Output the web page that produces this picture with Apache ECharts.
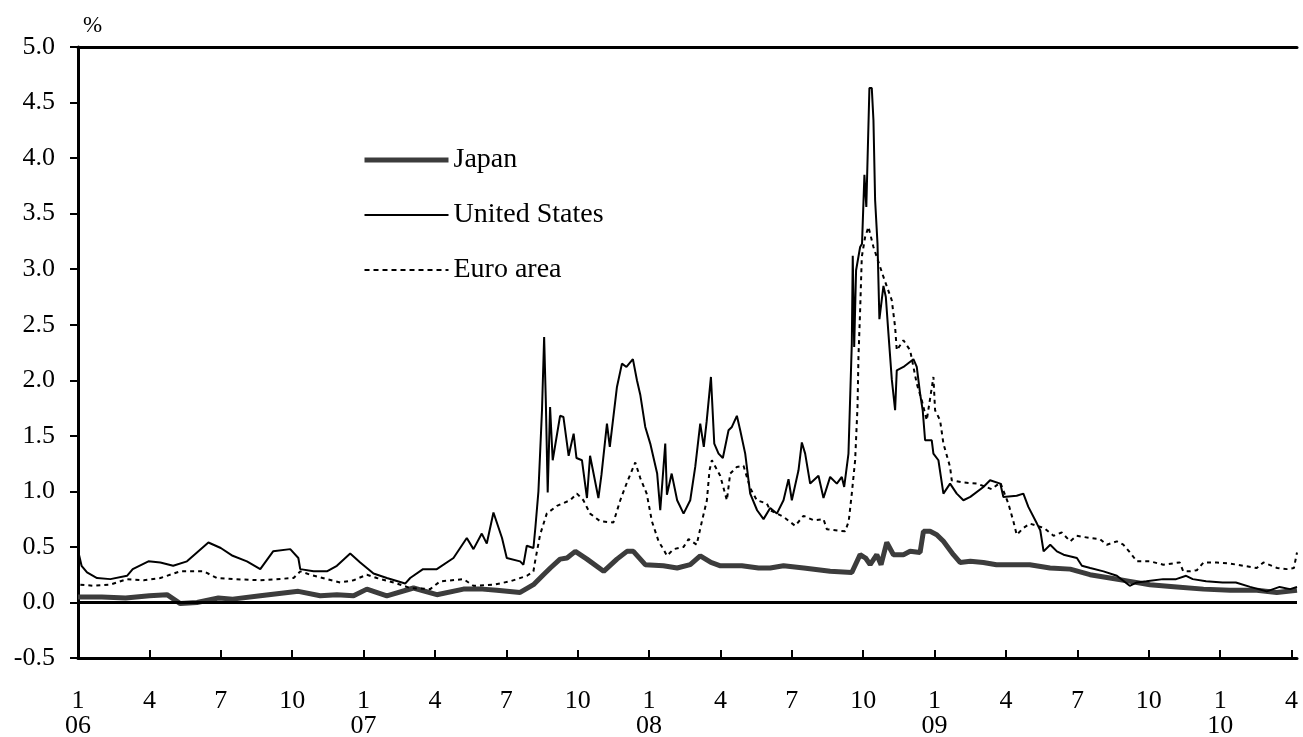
<!DOCTYPE html>
<html>
<head>
<meta charset="utf-8">
<script src="https://cdn.jsdelivr.net/npm/echarts@6/dist/echarts.min.js"></script>
<style>
html,body{margin:0;padding:0;background:#fff;}
#chart{width:1303px;height:737px;}
</style>
</head>
<body>
<div id="chart"></div>
<script>
// x values: months since January 2006 (0 = Jan 2006)
const tickMonths = [0,3,6,9,12,15,18,21,24,27,30,33,36,39,42,45,48,51];
const yearLabels = ['06','07','08','09','10'];
const monthLabels = ['1','4','7','10'];
const xEnd = 51.23;

const usMonth = [0.02,0.15,0.38,0.8,1.36,2.06,2.3,2.96,3.46,4.0,4.58,5.0,5.48,6.0,6.5,7.1,7.66,8.2,8.92,9.26,9.34,9.9,10.46,10.88,11.44,11.86,12.42,12.98,13.75,13.96,14.5,15.08,15.78,16.34,16.62,16.97,17.18,17.46,17.82,18.02,18.58,18.72,18.86,19.14,19.22,19.35,19.5,19.59,19.66,19.74,19.84,19.95,20.26,20.4,20.62,20.83,20.95,21.18,21.39,21.52,21.87,22.0,22.23,22.35,22.65,22.86,23.05,23.32,23.49,23.63,23.84,24.05,24.34,24.47,24.68,24.75,24.95,25.18,25.45,25.73,25.94,26.15,26.3,26.42,26.6,26.68,26.74,26.92,27.1,27.34,27.48,27.69,27.83,28.04,28.25,28.54,28.81,29.09,29.37,29.65,29.86,30.0,30.28,30.42,30.56,30.77,31.12,31.33,31.61,31.89,32.1,32.2,32.38,32.52,32.56,32.62,32.7,32.87,32.95,33.05,33.13,33.26,33.36,33.43,33.5,33.6,33.68,33.85,33.95,34.06,34.2,34.34,34.41,34.69,35.11,35.25,35.39,35.5,35.6,35.88,35.95,36.16,36.37,36.65,36.93,37.21,37.5,38.05,38.33,38.76,38.89,39.45,39.73,39.94,40.3,40.44,40.58,40.86,41.14,41.42,41.98,42.19,42.54,43.1,43.66,44.2,44.5,44.9,45.6,46.15,46.57,46.85,47.41,48.1,48.66,49.26,49.96,50.5,50.94,51.23];
const usValue = [0.45,0.33,0.27,0.22,0.21,0.24,0.30,0.37,0.36,0.33,0.37,0.45,0.54,0.49,0.42,0.37,0.30,0.46,0.48,0.40,0.30,0.28,0.28,0.33,0.44,0.36,0.26,0.22,0.17,0.22,0.30,0.30,0.40,0.58,0.48,0.62,0.53,0.81,0.58,0.40,0.37,0.34,0.51,0.49,0.67,1.00,1.73,2.39,1.82,0.99,1.76,1.28,1.68,1.67,1.32,1.52,1.30,1.28,0.94,1.32,0.94,1.15,1.61,1.40,1.94,2.15,2.12,2.19,2.00,1.87,1.58,1.43,1.16,0.83,1.43,0.97,1.16,0.92,0.80,0.92,1.22,1.61,1.40,1.63,2.03,2.03,1.43,1.34,1.30,1.55,1.58,1.68,1.55,1.34,0.98,0.83,0.75,0.85,0.80,0.92,1.11,0.92,1.19,1.44,1.34,1.07,1.14,0.94,1.13,1.07,1.13,1.04,1.34,2.33,3.12,2.30,2.99,3.20,3.23,3.85,3.56,4.63,4.63,4.34,3.62,3.23,2.55,2.85,2.75,2.42,2.01,1.73,2.09,2.12,2.19,2.12,1.88,1.73,1.46,1.46,1.34,1.28,0.98,1.07,0.98,0.92,0.95,1.04,1.10,1.07,0.95,0.96,0.98,0.86,0.71,0.65,0.46,0.52,0.46,0.43,0.40,0.33,0.31,0.28,0.24,0.15,0.18,0.19,0.21,0.21,0.24,0.21,0.19,0.18,0.18,0.14,0.10,0.14,0.12,0.14];

const euroMonth = [0.1,0.66,1.36,2.06,2.76,3.46,4.3,5.28,5.84,6.54,7.66,9.06,9.34,9.76,10.46,11.02,11.58,12.14,12.56,13.26,13.96,14.8,15.22,16.2,16.62,17.46,18.16,18.87,19.14,19.21,19.42,19.7,20.13,20.68,20.97,21.24,21.52,21.95,22.5,22.79,23.07,23.42,23.63,23.9,24.12,24.4,24.6,24.75,25.03,25.45,25.66,26.0,26.22,26.43,26.54,26.64,26.99,27.13,27.27,27.41,27.69,27.97,28.25,28.53,28.95,29.09,29.65,30.14,30.49,30.91,31.33,31.47,32.24,32.39,32.52,32.66,32.76,32.8,32.87,32.94,33.08,33.22,33.43,33.57,33.85,34.2,34.34,34.41,34.69,34.97,35.25,35.46,35.67,35.95,36.02,36.23,36.37,36.65,36.72,37.21,37.77,38.4,38.76,39.1,39.31,39.45,39.73,40.0,40.3,40.6,41.0,41.34,41.7,41.97,42.53,42.95,43.24,43.66,43.93,44.21,44.5,45.05,45.61,46.3,46.45,46.74,47.02,47.3,47.86,48.42,48.98,49.54,49.82,50.4,50.8,51.1,51.23];
const euroValue = [0.16,0.15,0.16,0.21,0.20,0.22,0.28,0.28,0.22,0.21,0.20,0.22,0.28,0.25,0.21,0.18,0.20,0.25,0.22,0.18,0.13,0.12,0.19,0.21,0.15,0.16,0.19,0.24,0.28,0.37,0.61,0.80,0.87,0.92,0.98,0.92,0.80,0.73,0.72,0.92,1.08,1.26,1.12,0.98,0.73,0.55,0.48,0.42,0.48,0.50,0.57,0.52,0.73,0.92,1.19,1.28,1.14,1.03,0.92,1.16,1.22,1.23,1.03,0.92,0.89,0.83,0.77,0.69,0.78,0.74,0.75,0.66,0.64,0.73,0.98,1.28,1.76,2.21,2.63,3.11,3.29,3.38,3.20,3.11,2.93,2.72,2.48,2.27,2.36,2.27,1.97,1.82,1.64,2.03,1.73,1.64,1.43,1.22,1.10,1.08,1.07,1.02,1.08,0.89,0.73,0.61,0.67,0.71,0.69,0.67,0.60,0.63,0.55,0.60,0.58,0.57,0.52,0.55,0.52,0.45,0.37,0.37,0.34,0.36,0.28,0.28,0.29,0.36,0.36,0.35,0.33,0.31,0.36,0.31,0.30,0.31,0.45];

const japanMonth = [0.0,1.0,2.0,3.0,3.74,4.3,5.0,5.9,6.5,7.66,9.26,10.18,10.88,11.58,12.14,12.98,14.1,15.08,16.2,17.0,17.6,18.58,19.14,19.56,19.85,20.26,20.55,20.9,21.39,22.09,22.65,23.07,23.34,23.84,24.6,25.18,25.73,26.15,26.6,27.0,27.9,28.6,29.09,29.65,30.5,31.61,32.52,32.87,33.1,33.29,33.57,33.75,33.99,34.27,34.69,34.97,35.39,35.53,35.81,36.09,36.37,36.79,37.07,37.5,38.05,38.6,39.17,40.0,40.85,41.7,42.53,43.37,44.21,45.05,46.18,47.3,48.42,49.54,50.38,51.23];
const japanValue = [0.05,0.05,0.04,0.06,0.07,-0.01,0.00,0.04,0.03,0.06,0.10,0.06,0.07,0.06,0.12,0.06,0.13,0.07,0.12,0.12,0.11,0.09,0.16,0.25,0.31,0.39,0.40,0.46,0.39,0.28,0.39,0.46,0.46,0.34,0.33,0.31,0.34,0.42,0.36,0.33,0.33,0.31,0.31,0.33,0.31,0.28,0.27,0.43,0.40,0.34,0.43,0.34,0.54,0.43,0.43,0.46,0.45,0.64,0.64,0.61,0.55,0.43,0.36,0.37,0.36,0.34,0.34,0.34,0.31,0.30,0.25,0.22,0.19,0.16,0.14,0.12,0.11,0.11,0.09,0.11];

const zip = (xs, ys) => xs.map((x, i) => [x, ys[i]]);
const FONT = '"Liberation Serif", "Times New Roman", serif';
const JAPAN_COLOR = '#3c3c3c';

function monthLabel(v) {
  const m = Math.round(v);
  const mi = ((m % 12) + 12) % 12;
  const label = monthLabels[mi / 3];
  if (mi === 0) return label + '\n' + yearLabels[m / 12];
  return label;
}

const chart = echarts.init(document.getElementById('chart'), null, {renderer: 'canvas'});
chart.setOption({
  animation: false,
  backgroundColor: '#ffffff',
  grid: {left: 78, right: 6, top: 47, bottom: 79, outerBoundsMode: 'none', containLabel: false},
  legend: {
    orient: 'vertical',
    left: 362,
    top: 146,
    padding: 0,
    itemWidth: 84,
    itemHeight: 28,
    itemGap: 27,
    itemStyle: {opacity: 0},
    data: [
      {name: 'Japan', lineStyle: {color: JAPAN_COLOR, width: 5, type: 'solid'}},
      {name: 'United States', lineStyle: {color: '#000', width: 2, type: 'solid'}},
      {name: 'Euro area', lineStyle: {color: '#000', width: 2, type: [5, 4]}}
    ],
    textStyle: {fontFamily: FONT, fontSize: 28, color: '#000'}
  },
  xAxis: [{
    type: 'value',
    min: 0,
    max: xEnd,
    position: 'bottom',
    axisLine: {show: true, onZero: false, lineStyle: {color: '#000', width: 3}},
    axisTick: {show: true, inside: true, length: 8, lineStyle: {color: '#000', width: 2}, customValues: tickMonths},
    axisLabel: {
      customValues: tickMonths,
      formatter: monthLabel,
      fontFamily: FONT, fontSize: 26, color: '#000', lineHeight: 25, margin: 31
    },
    splitLine: {show: false}
  }, {
    type: 'value',
    min: 0,
    max: xEnd,
    position: 'top',
    axisLine: {show: true, onZero: false, lineStyle: {color: '#000', width: 3}},
    axisTick: {show: false},
    axisLabel: {show: false},
    splitLine: {show: false}
  }],
  yAxis: {
    type: 'value',
    min: -0.5,
    max: 5,
    interval: 0.5,
    name: '%',
    nameLocation: 'end',
    nameGap: 10,
    nameTextStyle: {fontFamily: FONT, fontSize: 23, color: '#000', align: 'left', padding: [0, 0, 0, 5]},
    axisLine: {show: true, onZero: false, lineStyle: {color: '#000', width: 3}},
    axisTick: {show: true, inside: false, length: 8, lineStyle: {color: '#000', width: 2}},
    axisLabel: {formatter: v => v.toFixed(1), fontFamily: FONT, fontSize: 26, color: '#000', margin: 23},
    splitLine: {show: false}
  },
  series: [{
    name: 'Japan',
    type: 'line',
    data: zip(japanMonth, japanValue),
    symbol: 'none',
    lineStyle: {color: JAPAN_COLOR, width: 5},
    itemStyle: {color: JAPAN_COLOR},
    z: 2
  }, {
    name: 'Euro area',
    type: 'line',
    data: zip(euroMonth, euroValue),
    symbol: 'none',
    lineStyle: {color: '#000', width: 2, type: [4, 4]},
    itemStyle: {color: '#000'},
    z: 3
  }, {
    name: 'United States',
    type: 'line',
    data: zip(usMonth, usValue),
    symbol: 'none',
    lineStyle: {color: '#000', width: 2},
    itemStyle: {color: '#000'},
    z: 4,
    markLine: {
      silent: true,
      symbol: ['none', 'none'],
      label: {show: false},
      lineStyle: {color: '#000', width: 3, type: 'solid'},
      data: [{yAxis: 0}]
    }
  }]
});
</script>
</body>
</html>
